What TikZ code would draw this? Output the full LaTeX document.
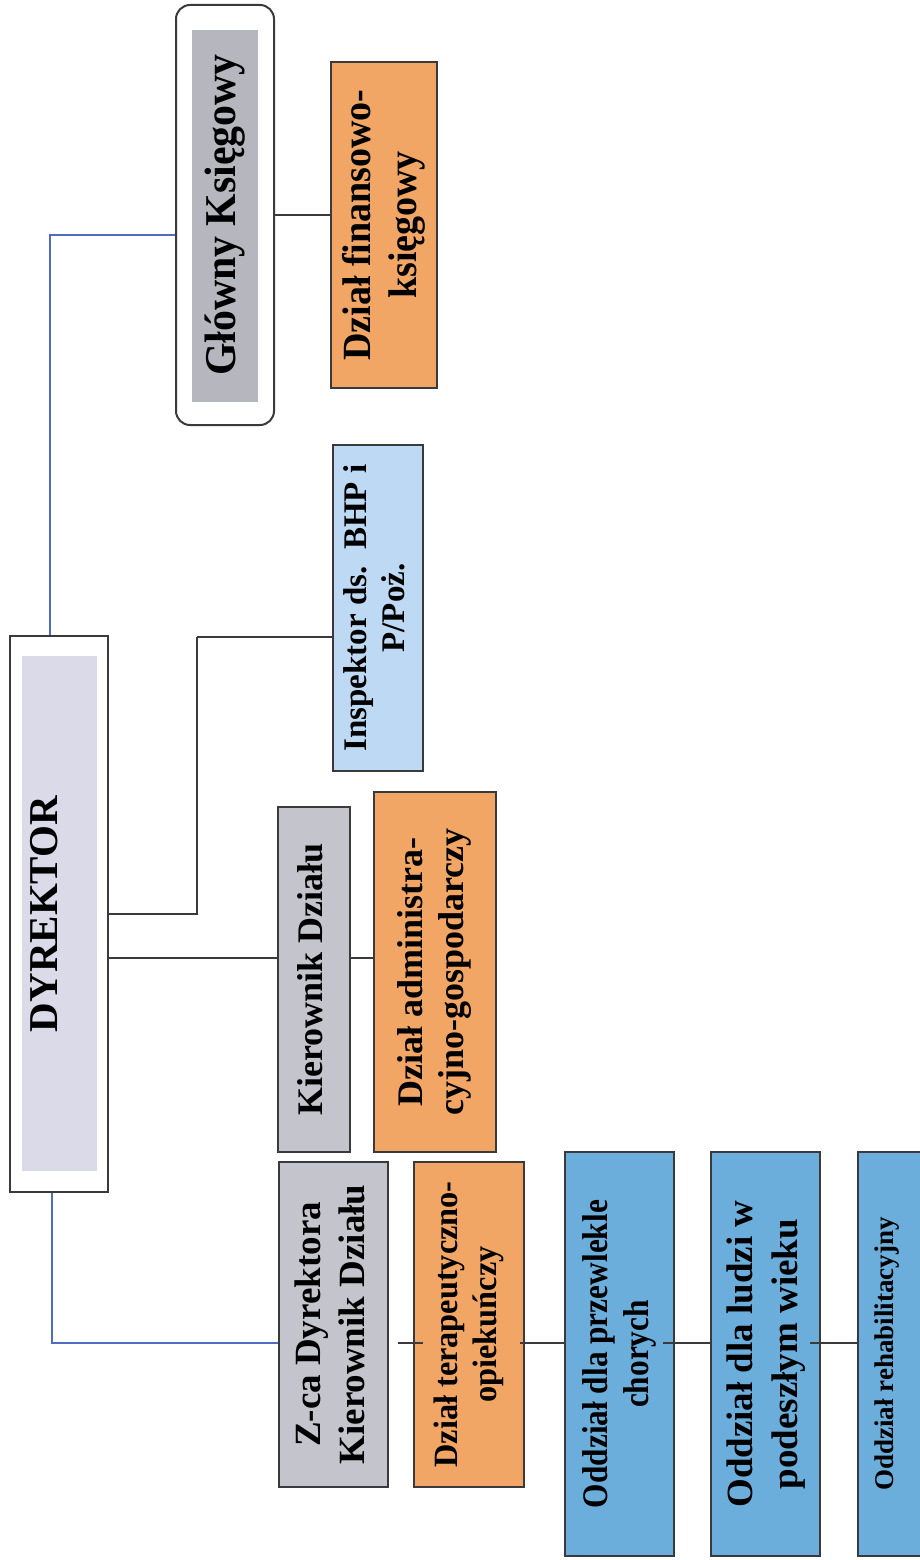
\documentclass[tikz,border=0pt]{standalone}
\usepackage{fontspec}
\setmainfont{Liberation Serif}
\usepackage{graphicx}
\usepackage{tikz}
\usetikzlibrary{positioning}

\definecolor{boxline}{HTML}{3A3A3C}
\definecolor{linkblue}{HTML}{4F6CC2}
\definecolor{gkgrey}{HTML}{B6B6BF}
\definecolor{kiergrey}{HTML}{C4C4CC}
\definecolor{dyrlav}{HTML}{DADAE8}
\definecolor{dzialorange}{HTML}{F1A665}
\definecolor{inspblue}{HTML}{BED9F4}
\definecolor{oddzblue}{HTML}{6BAEDC}

% rotated (bottom to top) label, optional horizontal squeeze
\newcommand{\vlab}[2][1]{\rotatebox{90}{\scalebox{#1}[1]{\begin{tabular}{@{}c@{}}#2\end{tabular}}}}

\begin{document}
\begin{tikzpicture}[x=1pt,y=-1pt,
  box/.style={draw=boxline,line width=2pt,inner sep=0pt},
  fs/.style 2 args={font=\bfseries\fontsize{#1}{#2}\selectfont},
  grey node/.style={box,fill=kiergrey},
  orange node/.style={box,fill=dzialorange},
  pale node/.style={box,fill=inspblue},
  blue node/.style={box,fill=oddzblue},
  frame node/.style={box,fill=white},
  innerfill/.style n args={5}{path picture={\fill[#1,sharp corners] ([shift={(#2,#3)}]path picture bounding box.north west) rectangle ([shift={(#4,#5)}]path picture bounding box.south east);}},
  line/.style={draw=boxline,line width=1.5pt},
  blue line/.style={draw=linkblue,line width=1.8pt}]

  \useasboundingbox (0,0) rectangle (920,1560);
  \clip (0,0) rectangle (920,1560);
  \fill[white] (0,0) rectangle (920,1560);

  \node[frame node,rounded corners=14pt,minimum width=98pt,minimum height=420pt,
    innerfill={gkgrey}{16}{25}{-16}{-23},fs={44}{50}] (gk) at (225,215) {\vlab[0.95]{Główny Księgowy}};
  \node[orange node,minimum width=106pt,minimum height=326pt,fs={40}{46}] (fin) at (384,225) {\vlab[0.95]{Dział finansowo-\\księgowy}};
  \node[pale node,minimum width=90pt,minimum height=326pt,fs={33}{38}] (insp) at (378,608) {\vlab{Inspektor ds.\ \ BHP i\\P/Poż.}};
  \node[frame node,minimum width=98pt,minimum height=556pt,
    innerfill={dyrlav}{12}{20}{-11}{-21},fs={41}{47}] (dyr) at (59,914) {\vlab{DYREKTOR}\hspace*{22pt}};
  \node[grey node,minimum width=72pt,minimum height=345pt,fs={36}{41}] (kier) at (314,979.5) {\vlab{Kierownik Działu}};
  \node[orange node,minimum width=122pt,minimum height=360pt,fs={36}{41}] (adm) at (435,972) {\vlab{Dział administra-\\cyjno-gospodarczy}};
  \node[grey node,minimum width=109pt,minimum height=325pt,fs={37}{44}] (zca) at (333.5,1324.5) {\vlab{Z-ca Dyrektora\\Kierownik Działu}};
  \node[orange node,minimum width=110pt,minimum height=325pt,fs={34}{39},right=24pt of zca] (ter) {\vlab[0.95]{Dział terapeutyczno-\\opiekuńczy}};
  \node[blue node,minimum width=109pt,minimum height=404pt,fs={36}{41}] (odd1) at (619.5,1354) {\vlab[0.87]{Oddział dla przewlekle\\chorych}};
  \node[blue node,minimum width=109pt,minimum height=404pt,fs={37}{45},right=35pt of odd1] (odd2) {\vlab{Oddział dla ludzi w\\podeszłym wieku}};
  \node[blue node,minimum width=109pt,minimum height=404pt,fs={27}{31},right=36pt of odd2] (odd3) {\vlab{Oddział rehabilitacyjny}\hspace*{51pt}};

  \coordinate (gb) at (50,235);
  \coordinate (ib) at (197,637);
  \coordinate (kb) at (200,958);
  \coordinate (zb) at (52,1343);

  \path[every edge/.style={line}]
    (gk.east) edge (gk.east -| fin.west)
    (dyr.east) edge[to path={-| (\tikztotarget)}] (ib)
    (ib) edge (ib -| insp.west)
    (dyr.east |- kb) edge (kier.west |- kb)
    (kier.east |- kb) edge (adm.west |- kb)
    ([xshift=9pt]zca.east |- zb) edge ([xshift=10pt]ter.west |- zb)
    ([xshift=-5pt]ter.east |- zb) edge (odd1.west |- zb)
    ([xshift=-12pt]odd1.east |- zb) edge (odd2.west |- zb)
    ([xshift=-11pt]odd2.east |- zb) edge (odd3.west |- zb);

  \draw[blue line] (gk.west |- gb) -- (gb) -- (gb |- dyr.north);
  \draw[blue line] (zb |- dyr.south) -- (zb) -- (zb -| zca.west);

\end{tikzpicture}
\end{document}
